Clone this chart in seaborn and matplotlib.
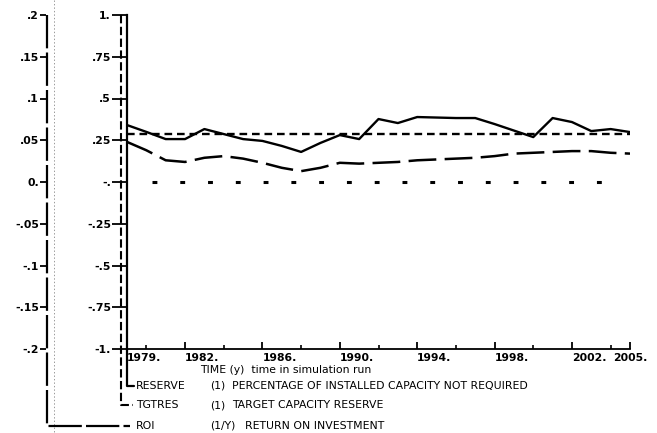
"""
Reproduce DYNAMO-style plot: RESERVE / TGTRES / ROI over simulation time
"""

import numpy as np
import pandas as pd
import matplotlib
matplotlib.use("Agg")
import matplotlib.pyplot as plt
import seaborn as sns

# ── Data ──────────────────────────────────────────────────────────────────────
years = list(range(1979, 2006))
reserve = [0.341, 0.300, 0.257, 0.257, 0.317, 0.287, 0.257, 0.246, 0.216, 0.180,
           0.234, 0.281, 0.257, 0.377, 0.353, 0.389, 0.386, 0.383, 0.383, 0.347,
           0.308, 0.269, 0.383, 0.359, 0.305, 0.317, 0.299]
tgtres = [0.29] * len(years)
roi = [0.048, 0.038, 0.026, 0.024, 0.029, 0.031, 0.028, 0.023, 0.017, 0.013,
       0.017, 0.023, 0.022, 0.023, 0.024, 0.026, 0.027, 0.028, 0.029, 0.031,
       0.034, 0.035, 0.036, 0.037, 0.037, 0.035, 0.034]

mid_ticks = [-1, -0.75, -0.5, -0.25, 0, 0.25, 0.5, 0.75, 1]
mid_labels = ["-1.", "-.75", "-.5", "-.25", "-.", ".25", ".5", ".75", "1."]
roi_ticks = [-0.2, -0.15, -0.1, -0.05, 0, 0.05, 0.1, 0.15, 0.2]
roi_labels = ["-.2", "-.15", "-.1", "-.05", "0.", ".05", ".1", ".15", ".2"]
x_major = [1979, 1982, 1986, 1990, 1994, 1998, 2002, 2005]
x_major_labels = ["1979.", "1982.", "1986.", "1990.", "1994.", "1998.", "2002.", "2005."]
x_minor = [1980, 1984, 1988, 1992, 1996, 2000, 2004]

legend_rows = [
    ("RESERVE", "(1)", "PERCENTAGE OF INSTALLED CAPACITY NOT REQUIRED"),
    ("TGTRES", "(1)", "TARGET CAPACITY RESERVE"),
    ("ROI", "(1/Y)", "RETURN ON INVESTMENT"),
]

df = pd.DataFrame({"year": years, "RESERVE": reserve, "TGTRES": tgtres, "ROI": roi})

# ── Style ─────────────────────────────────────────────────────────────────────
sns.set_style("ticks")
plt.rcParams["font.family"] = ["DejaVu Sans"]
plt.rcParams["lines.scale_dashes"] = False
for k in ("text.color", "axes.labelcolor", "xtick.color", "ytick.color",
          "axes.edgecolor"):
    plt.rcParams[k] = "black"
FS = 7.8
W, H = 657, 433

fig = plt.figure(figsize=(W / 100, H / 100), dpi=100)
fig.patch.set_facecolor("white")
ax = fig.add_axes([127 / W, 1 - 349 / H, 503 / W, 334 / H])
ax.patch.set_alpha(0)
ax2 = ax.twinx()

# ── Series ────────────────────────────────────────────────────────────────────
sns.lineplot(data=df, x="year", y="RESERVE", ax=ax, color="black", lw=1.7)
sns.lineplot(data=df, x="year", y="TGTRES", ax=ax, color="black", lw=1.7,
             linestyle=(0, (5.5, 3.5)))
sns.lineplot(data=df, x="year", y="ROI", ax=ax2, color="black", lw=1.8,
             linestyle=(0, (20, 6)))
ax.axhline(0, xmin=0.05, xmax=0.95, color="black", lw=2.2,
           linestyle=(0, (3.5, 16.5)))

# ── Axes ──────────────────────────────────────────────────────────────────────
ax.set_xlim(1979, 2005)
ax.set_ylim(-1, 1)
ax2.set_ylim(-0.2, 0.2)
for a in (ax, ax2):
    a.set_xlabel("")
    a.set_ylabel("")

for s in ("top", "right"):
    ax.spines[s].set_visible(False)
ax.spines["left"].set_linewidth(1.6)
ax.spines["bottom"].set_linewidth(1.3)

for s in ("top", "right", "bottom"):
    ax2.spines[s].set_visible(False)
ax2.yaxis.tick_left()
ax2.spines["left"].set_position(("outward", 58))
ax2.spines["left"].set_visible(False)

ax.set_yticks(mid_ticks, mid_labels)
ax.tick_params(axis="y", direction="out", length=10.5, width=1.3, pad=1,
               labelsize=FS, colors="black")
ax2.set_yticks(roi_ticks, roi_labels)
ax2.tick_params(axis="y", direction="out", length=4, width=1.3, pad=1.5,
                labelsize=FS, colors="black")

ax.set_xticks(x_major, x_major_labels)
ax.set_xticks(x_minor, minor=True)
ax.tick_params(axis="x", which="major", direction="in", length=5, width=1.3,
               pad=3, labelsize=FS, colors="black")
ax.tick_params(axis="x", which="minor", direction="in", length=3, width=1.2,
               colors="black")
for lbl in ax.get_xticklabels():
    lbl.set_ha("left")
ax.get_xticklabels()[-1].set_ha("center")

for lbl in ax.get_yticklabels() + ax2.get_yticklabels() + ax.get_xticklabels():
    lbl.set_fontweight("bold")

# ── Plotter-style axis brackets and variable key (pixel overlay) ─────────────
deco = fig.add_axes([0, 0, 1, 1], facecolor="none")
deco.set_xlim(0, W)
deco.set_ylim(H, 0)
deco.axis("off")

deco.plot([54, 54], [0, H], color="0.6", lw=0.7, ls=(0, (1, 1.5)))
deco.plot([47, 47, 130], [15, 426, 426], color="black", lw=1.6,
          ls=(0, (24, 3)))
deco.plot([121, 121, 133], [15, 405, 405], color="black", lw=1.5,
          ls=(0, (6, 2.5)))
deco.plot([127, 127, 134], [349, 386, 386], color="black", lw=1.6)

deco.text(200, 370, "TIME (y)  time in simulation run", fontsize=FS,
          va="center", ha="left", color="black")
for (name, unit, desc), yy, dx in zip(legend_rows, [386, 405, 426], [232, 232, 245]):
    deco.text(136, yy, name, fontsize=FS, va="center", ha="left", color="black")
    deco.text(210, yy, unit, fontsize=FS, va="center", ha="left", color="black")
    deco.text(dx, yy, desc, fontsize=FS, va="center", ha="left", color="black")

plt.savefig("out.png", dpi=100)
print("Saved: out.png")
